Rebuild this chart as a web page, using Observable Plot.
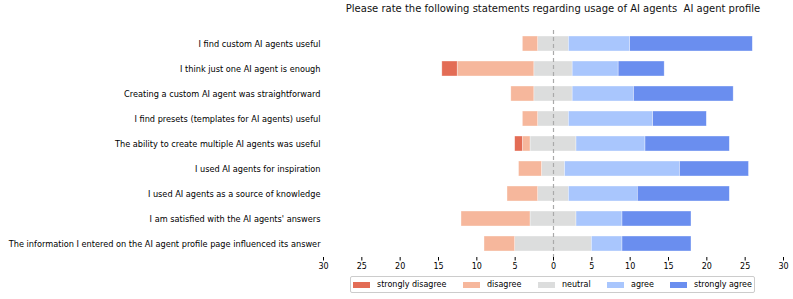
<!DOCTYPE html>
<html>
<head>
<meta charset="utf-8">
<script src="https://cdn.jsdelivr.net/npm/d3@7"></script>
<script src="https://cdn.jsdelivr.net/npm/@observablehq/plot@0.6"></script>
<style>
  body { margin: 0; background: white; font-family: "DejaVu Sans", sans-serif; }
  #wrap { position: relative; width: 793px; height: 299px; }
  #title { position: absolute; top: 3px; left: 323px; width: 460px; text-align: center; font-size: 10px; font-weight: normal; color: #111; white-space: pre; }
  #chart { position: absolute; top: 22px; left: 0; }
  #legend { position: absolute; top: 276px; left: 350px; width: 405px; height: 17px; border: 1px solid #ccc; border-radius: 2px; display: flex; align-items: center; font-size: 8px; box-sizing: border-box; padding-left: 2px; white-space: nowrap; }
  .item { display: flex; align-items: center; white-space: nowrap; }
  .sw { width: 17px; height: 6px; margin-right: 7px; flex: none; }
</style>
</head>
<body>
<div id="wrap">
  <div id="title">Please rate the following statements regarding usage of AI agents  AI agent profile</div>
  <div id="chart"></div>
  <div id="legend"></div>
</div>
<script>
const statements = [
  "I find custom AI agents useful",
  "I think just one AI agent is enough",
  "Creating a custom AI agent was straightforward",
  "I find presets (templates for AI agents) useful",
  "The ability to create multiple AI agents was useful",
  "I used AI agents for inspiration",
  "I used AI agents as a source of knowledge",
  "I am satisfied with the AI agents' answers",
  "The information I entered on the AI agent profile page influenced its answer"
];
const categories = ["strongly disagree", "disagree", "neutral", "agree", "strongly agree"];
const colors = ["#e36c55", "#f6b79c", "#dcdddd", "#a9c6fd", "#6a8eef"];
const stronglyDisagree = [0, 2, 0, 0, 1, 0, 0, 0, 0];
const disagree         = [2, 10, 3, 2, 1, 3, 4, 9, 4];
const neutral          = [4, 5, 5, 4, 6, 3, 4, 6, 10];
const agree            = [8, 6, 8, 11, 9, 15, 9, 6, 4];
const stronglyAgree    = [16, 6, 13, 7, 11, 9, 12, 9, 9];
const xTicks = [-30, -25, -20, -15, -10, -5, 0, 5, 10, 15, 20, 25, 30];
const legendX = [353, 463, 538, 607, 670];

const segs = [];
statements.forEach((s, i) => {
  const h = neutral[i] / 2;
  let left = -h;
  segs.push({s, cat: "neutral", x1: -h, x2: h});
  segs.push({s, cat: "disagree", x1: left - disagree[i], x2: left});
  left -= disagree[i];
  segs.push({s, cat: "strongly disagree", x1: left - stronglyDisagree[i], x2: left});
  let right = h;
  segs.push({s, cat: "agree", x1: right, x2: right + agree[i]});
  right += agree[i];
  segs.push({s, cat: "strongly agree", x1: right, x2: right + stronglyAgree[i]});
});
const data = segs.filter(d => d.x2 > d.x1);

const plot = Plot.plot({
  width: 793,
  height: 252,
  marginLeft: 323,
  marginRight: 10,
  marginTop: 8,
  marginBottom: 17,
  style: {fontFamily: "DejaVu Sans, sans-serif", fontSize: "8px", color: "#000"},
  x: {domain: [-30, 30], ticks: xTicks, tickFormat: d => Math.abs(d)},
  y: {domain: statements, paddingInner: 0.42, paddingOuter: 0.21, label: null},
  color: {domain: categories, range: colors},
  marks: [
    Plot.barX(data, {x1: "x1", x2: "x2", y: "s", fill: "cat", stroke: "white", strokeOpacity: 0.6, strokeWidth: 0.6, inset: 0}),
    Plot.ruleX([0], {stroke: "#aaa", strokeDasharray: "4,3", strokeWidth: 1.2}),
    Plot.axisX({ticks: xTicks, tickFormat: d => Math.abs(d), tickSize: 3.5, label: null, tickPadding: 2}),
    Plot.ruleY([0], {frameAnchor: "bottom", stroke: "#000", strokeWidth: 0.8}),
    Plot.axisY({tickSize: 0, fill: "#000", label: null, tickPadding: 3, fontSize: 8.2})
  ]
});
document.getElementById("chart").appendChild(plot);

const legend = document.getElementById("legend");
categories.forEach((c, i) => {
  const it = document.createElement("div");
  it.className = "item";
  it.style.position = "absolute";
  it.style.left = (legendX[i] - 351) + "px";
  const sw = document.createElement("span");
  sw.className = "sw";
  sw.style.background = colors[i];
  it.appendChild(sw);
  it.appendChild(document.createTextNode(c));
  legend.appendChild(it);
});
</script>
</body>
</html>
